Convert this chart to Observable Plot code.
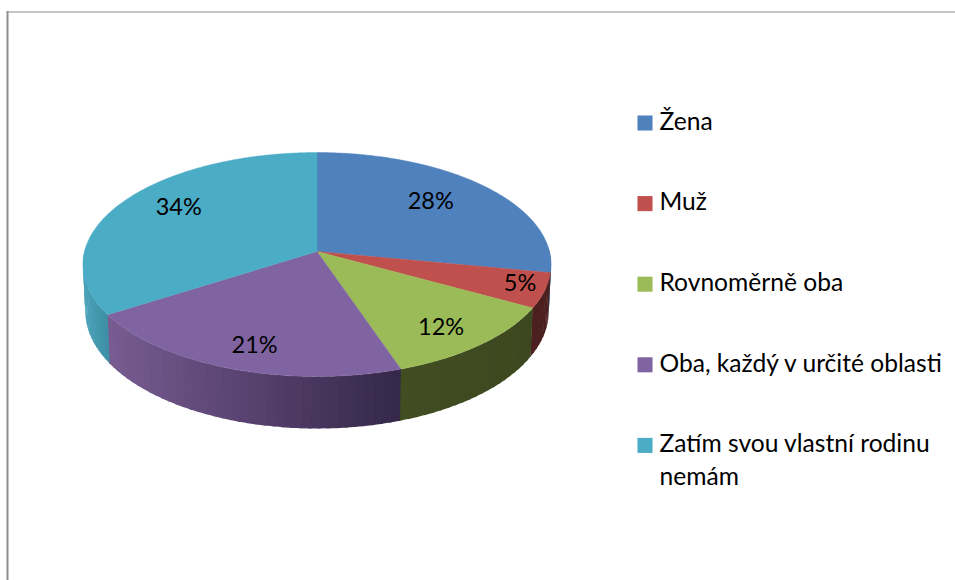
<!DOCTYPE html>
<html><head><meta charset="utf-8">
<script src="https://cdn.jsdelivr.net/npm/d3@7"></script>
<script src="https://cdn.jsdelivr.net/npm/@observablehq/plot@0.6"></script>
<style>html,body{margin:0;padding:0;background:#fff}svg{display:block}</style>
</head><body><div id="chart"></div>
<script>
const categories = ["Žena","Muž","Rovnoměrně oba","Oba, každý v určité oblasti","Zatím svou vlastní rodinu\nnemám"];
const values = [28,5,11.8,21.2,34];
const topColors = ["#4f81bd","#c0504d","#9bbb59","#8064a2","#4bacc6"];
const wallLeft = ["#2a4466","#4f2120","#424d22","#785c92","#4aa1b8"];
const wallRight = ["#2a4466","#4a1f1f","#3d4820","#35284a","#3f90a6"];
const labelRadius = [0.66,0.90,0.78,0.73,0.70];
const labelDx = [1,-1,-1,-1,-1];
const labelDy = [-6,-3,5,11,-8];

// perspective view of the pie disc
const cx=316.5, cy=251, c=232.5, a=110.5, b=-0.116, depth=46, shrink=0.99;
const view=(deg,r=1)=>{const t=deg*Math.PI/180,u=Math.sin(t)*r,v=-Math.cos(t)*r,d=1+b*v;
  return {X:cx+c*u/d,Y:cy+a*v/d,d};};
const low=(deg)=>{const p=view(deg);return {X:cx+(p.X-cx)*shrink,Y:p.Y+depth/p.d};};

const total=d3.sum(values);
let run=0;
const slices=values.map((v,i)=>{const s=run/total*360;run+=v;return {i,s,e:run/total*360};});

const wall=[], face=[];
const step=2;
slices.forEach(({i,s,e})=>{
  const a0=Math.max(s,88), a1=Math.min(e,272);
  if(a1>a0){
    const xs=[view(a0).X,view(a1).X], lo=d3.min(xs), hi=d3.max(xs);
    for(let t=a0;t<a1;t+=step){
      const t2=Math.min(t+step*1.3,a1+0.25);
      const f=hi>lo?(view(t).X-lo)/(hi-lo):0;
      const col=d3.interpolateRgb(wallLeft[i],wallRight[i])(Math.max(0,Math.min(1,f)));
      const id=`${i}-${t}`;
      [view(t),view(t2),low(t2),low(t)].forEach(p=>wall.push({id,X:p.X,Y:p.Y,col}));
    }
  }
  face.push({id:i,X:cx,Y:cy,col:topColors[i]});
  for(let t=s;t<e;t+=0.5){const p=view(t);face.push({id:i,X:p.X,Y:p.Y,col:topColors[i]});}
  const p=view(e);face.push({id:i,X:p.X,Y:p.Y,col:topColors[i]});
  face.push({id:i,X:cx,Y:cy,col:topColors[i]});
});
const labels=slices.map(({i,s,e})=>{const p=view((s+e)/2,labelRadius[i]);
  return {X:p.X+labelDx[i],Y:p.Y+labelDy[i],t:Math.round(values[i])+"%"};});
const legend=categories.map((n,i)=>({n,col:topColors[i],Y:122.5+i*80.6}));
const font="Lato, Carlito, Calibri, sans-serif";

const plot=Plot.plot({
  width:955,height:580,margin:0,
  style:{background:"#fff",fontFamily:font},
  x:{domain:[0,955],range:[0,955],axis:null},
  y:{domain:[0,580],range:[0,580],axis:null},
  color:{type:"identity"},
  marks:[
    Plot.ruleY([11.5],{x1:7,x2:955,stroke:"#8e8e8e",strokeWidth:1}),
    Plot.ruleX([7],{y1:11,y2:580,stroke:"#8e8e8e",strokeWidth:2}),
    Plot.line(wall,{x:"X",y:"Y",z:"id",fill:"col",strokeWidth:0,curve:"linear"}),
    Plot.line(face,{x:"X",y:"Y",z:"id",fill:"col",stroke:"col",strokeWidth:0.4,curve:"linear"}),
    Plot.text(labels,{x:"X",y:"Y",text:"t",fill:"#000",fontSize:23.5,textAnchor:"middle"}),
    Plot.dot(legend,{x:644.5,y:"Y",symbol:"square",r:8.5,fill:"col",stroke:"none"}),
    Plot.text(legend,{x:659,y:d=>d.Y-16.5,text:"n",fill:"#000",fontSize:24.6,textAnchor:"start",lineAnchor:"top",lineHeight:1.33})
  ]
});
document.getElementById("chart").appendChild(plot);
</script></body></html>
